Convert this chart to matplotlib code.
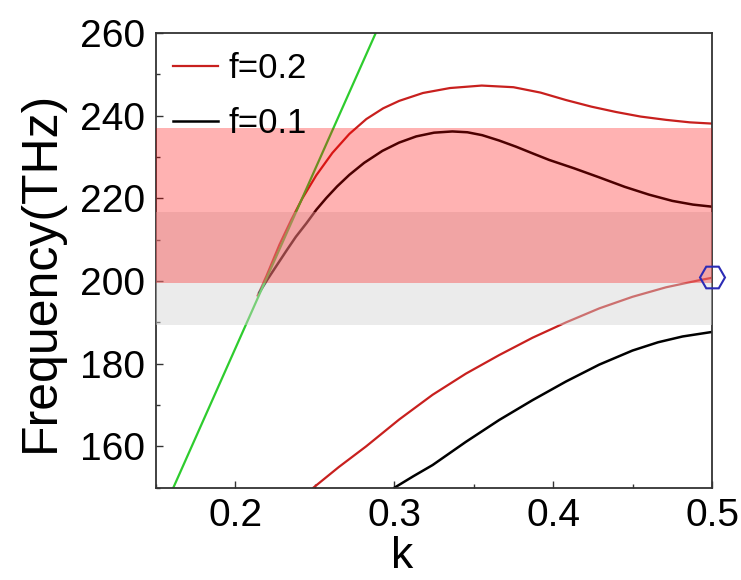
import matplotlib
matplotlib.use("Agg")
import matplotlib.pyplot as plt
from matplotlib.ticker import MultipleLocator

plt.rcParams["font.family"] = ["Liberation Sans", "DejaVu Sans"]

# données
k_red_up = [0.214, 0.2195, 0.2277, 0.235, 0.2421, 0.2509, 0.2610, 0.2717, 0.2824, 0.2930, 0.3031, 0.318, 0.335,
            0.355, 0.375, 0.392, 0.408, 0.424, 0.4396, 0.455, 0.4711, 0.486, 0.500]
f_red_up = [196.5, 201.2, 208.8, 214.7, 220.0, 225.6, 231.0, 235.6, 239.2, 241.8, 243.6, 245.5, 246.7,
            247.3, 246.9, 245.6, 243.8, 242.2, 240.9, 239.8, 239.0, 238.4, 238.1]

k_black_up = [0.215, 0.220, 0.226, 0.232, 0.238, 0.2447, 0.251, 0.2572, 0.264, 0.2717, 0.281, 0.2925, 0.303,
              0.3138, 0.325, 0.3365, 0.346, 0.3553, 0.366, 0.3767, 0.387, 0.3975, 0.413, 0.4289, 0.445,
              0.4604, 0.475, 0.488, 0.500]
f_black_up = [197.2, 200.3, 203.8, 207.3, 210.7, 214.0, 217.3, 220.1, 222.9, 225.7, 228.6, 231.5, 233.5,
              235.0, 235.9, 236.2, 236.0, 235.3, 234.0, 232.5, 230.9, 229.3, 227.3, 225.1, 222.8,
              220.9, 219.4, 218.5, 218.0]

k_red_low = [0.249, 0.265, 0.2822, 0.303, 0.3241, 0.345, 0.366, 0.387, 0.408, 0.429, 0.4499, 0.471, 0.4918, 0.500]
f_red_low = [150.0, 155.0, 160.0, 166.5, 172.5, 177.6, 182.1, 186.3, 190.0, 193.4, 196.2, 198.5, 200.2, 200.8]

k_black_low = [0.300, 0.312, 0.3241, 0.345, 0.366, 0.387, 0.408, 0.429, 0.4499, 0.466, 0.4814, 0.500]
f_black_low = [150.0, 152.8, 155.5, 161.1, 166.4, 171.2, 175.7, 179.8, 183.2, 185.2, 186.6, 187.7]

k_light = [0.1609, 0.2883]
f_light = [150.0, 260.0]

gap_01 = (189.4, 216.8)   # bande f=0.1
gap_02 = (199.6, 237.0)   # bande f=0.2
point_k, point_f = 0.5, 200.9

# 1 -> figure
fig = plt.figure(figsize=(7.41, 5.8), dpi=100)
ax = fig.add_axes([0.2105, 0.159, 0.7505, 0.784])

ax.plot(k_red_up, f_red_up, color="#c8201e", lw=1.6, label="f=0.2")
ax.plot(k_black_up, f_black_up, color="black", lw=1.8, label="f=0.1")
ax.plot(k_red_low, f_red_low, color="#c8201e", lw=1.6)
ax.plot(k_black_low, f_black_low, color="black", lw=1.8)
ax.plot(k_light, f_light, color="#2ecc2e", lw=1.6)

# 2 -> bandes interdites (par-dessus les courbes)
ax.axhspan(gap_01[0], gap_01[1], color="lightgray", alpha=0.45, lw=0, zorder=3)
ax.axhspan(gap_02[0], gap_02[1], color="red", alpha=0.3, lw=0, zorder=3)

ax.plot(point_k, point_f, marker="H", ms=18, mfc="none", mec="#2b2bb5", mew=1.5,
        clip_on=False, zorder=5)

# 3 -> axes
ax.set_xlim(0.15, 0.5)
ax.set_ylim(150, 260)
ax.xaxis.set_major_locator(MultipleLocator(0.1))
ax.xaxis.set_minor_locator(MultipleLocator(0.05))
ax.yaxis.set_major_locator(MultipleLocator(20))
ax.yaxis.set_minor_locator(MultipleLocator(10))
ax.tick_params(which="both", direction="in", color="#333333")
ax.tick_params(which="major", length=5, width=1)
ax.tick_params(which="minor", length=3, width=1)
ax.tick_params(axis="x", labelsize=28, pad=7)
ax.tick_params(axis="y", labelsize=28, pad=8)
for s in ax.spines.values():
    s.set_color("#333333")
    s.set_linewidth(1.3)

ax.set_xlabel("k", fontsize=32)
ax.xaxis.set_label_coords(0.442, -0.105)
ax.set_ylabel("Frequency(THz)", fontsize=36)
ax.yaxis.set_label_coords(-0.165, 0.475)

ax.legend(loc="upper left", bbox_to_anchor=(0.031, 0.958), frameon=False,
          fontsize=25, handlelength=1.3, handletextpad=0.3,
          labelspacing=0.62, borderpad=0, borderaxespad=0)

fig.savefig("out.png", dpi=100)
